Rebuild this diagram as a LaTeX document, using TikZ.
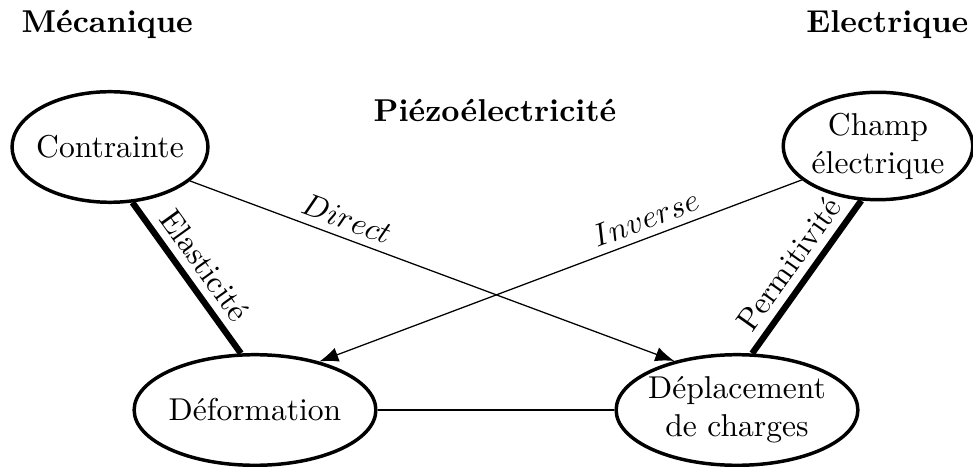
\documentclass[tikz,border=0pt]{standalone}
\usepackage{tikz}
\usetikzlibrary{arrows.meta,shapes.geometric}
\tikzset{
  bulle/.style={ellipse,draw=black,line width=1.1pt,inner xsep=-2pt,inner ysep=0pt,align=center,minimum height=35pt},
  lien/.style={draw=black,line width=.4pt},
  ar/.style={lien,-{Latex[length=6pt,width=4.6pt]}},
  epais/.style={draw=black,line width=2pt},
  titre/.style={font=\bfseries,inner sep=0pt},
  lbl/.style={sloped,above,inner sep=2.5pt},
}

\begin{document}
\begin{tikzpicture}[x=0.3165pt,y=-0.3165pt]
  \useasboundingbox (0,0) rectangle (973,467);
  % ── titles ──
  \node[titre,anchor=base west] (meca) at (21,33) {Mécanique};
  \node[titre,anchor=base east] (elec) at (969,33) {Electrique};
  \node[titre,anchor=base] (piezo) at (495,122) {Piézoélectricité};
  % ── quantities ──
  \node[bulle,minimum width=62pt] (contrainte) at (110,147) {Contrainte};
  \node[bulle,minimum width=60pt,minimum height=34pt] (champ) at (878,146) {Champ\\électrique};
  \node[bulle,minimum width=76.5pt] (deformation) at (255,410) {Déformation};
  \node[bulle,minimum width=76.5pt] (deplacement) at (737,410) {Déplacement\\de charges};
  % ── links ──
  \draw[epais] (contrainte.-68) -- node[lbl] {Elasticité} (deformation.104);
  \draw[epais] (champ.-107) -- node[lbl] {Permitivité} (deplacement.75);
  \draw[ar] (contrainte.-23) -- node[lbl,pos=.31] {$Direct$} (deplacement.142);
  \draw[ar] (champ.204) -- node[lbl,pos=.31] {$Inverse$} (deformation.37);
  \draw[lien,line width=.6pt] (deformation) -- (deplacement);
\end{tikzpicture}
\end{document}
